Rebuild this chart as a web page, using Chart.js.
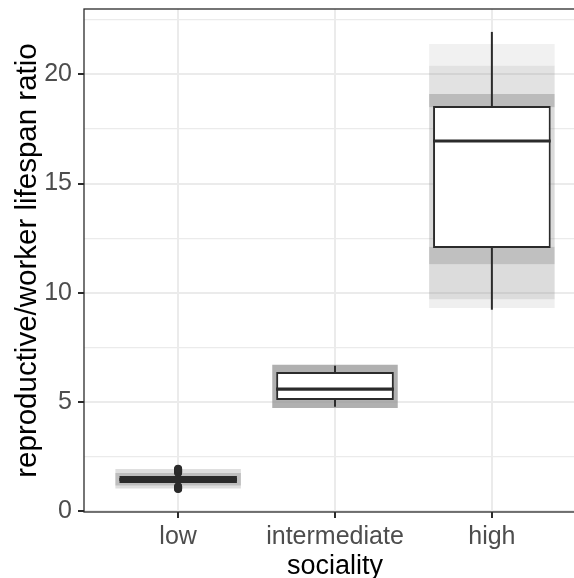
<!DOCTYPE html>
<html>
<head>
<meta charset="utf-8">
<script src="https://cdn.jsdelivr.net/npm/chart.js@4.4.1/dist/chart.umd.min.js"></script>
<style>
  html, body { margin: 0; padding: 0; background: #fff; overflow: hidden; }
  #wrap { width: 590px; height: 578px; }
</style>
</head>
<body>
<div id="wrap"><canvas id="lifespan" width="590" height="578"></canvas></div>
<script>
// box statistics per sociality level
const categories = ["low", "intermediate", "high"];
const q1 = [1.28, 5.08, 12.05];
const medians = [1.44, 5.58, 16.95];
const q3 = [1.6, 6.36, 18.55];
const whiskerLow = [1.15, 4.77, 9.22];
const whiskerHigh = [1.72, 6.65, 21.95];
const outliersLow = [1.0, 1.03, 1.06, 1.09, 1.12, 1.75, 1.78, 1.81, 1.84, 1.87, 1.9, 1.93];

// jittered replicates, summarised as bands of points (category index, range, density)
const bandCategory = [0, 0, 1, 2, 2, 2, 2, 2, 2, 2];
const bandLow = [1.03, 1.16, 4.72, 9.3, 9.7, 11.3, 12.1, 18.5, 19.1, 20.4];
const bandHigh = [1.92, 1.74, 6.7, 9.7, 11.3, 12.1, 18.5, 19.1, 20.4, 21.4];
const bandDensity = [0.3, 0.45, 0.75, 0.15, 0.33, 0.6, 0.35, 0.65, 0.28, 0.13];

const yMajorTicks = [0, 5, 10, 15, 20];
const yMinorTicks = [2.5, 7.5, 12.5, 17.5, 22.5];

const BOX_WIDTH = 0.75;
const JITTER_WIDTH = 0.8;
const INK = "#2b2b2b";
const FONT = "'Liberation Sans', Arial, sans-serif";

const panelBorder = {
  id: "panelBorder",
  afterDraw(chart) {
    const { ctx, chartArea: a } = chart;
    ctx.save();
    ctx.strokeStyle = INK;
    ctx.lineWidth = 1.3;
    ctx.strokeRect(a.left, a.top, a.right - a.left, a.bottom - a.top);
    ctx.restore();
  },
};

const medianLines = medians.map((m, i) => ({
  type: "line",
  data: [
    { x: i + 1 - BOX_WIDTH / 2, y: m },
    { x: i + 1 + BOX_WIDTH / 2, y: m },
  ],
  borderColor: INK,
  borderWidth: 3.2,
  pointRadius: 0,
  order: 2,
}));

const ctx = document.getElementById("lifespan").getContext("2d");

new Chart(ctx, {
  type: "bar",
  data: {
    datasets: [
      {
        label: "replicates",
        data: bandCategory.map((c, i) => ({ x: c + 1, y: [bandLow[i], bandHigh[i]] })),
        backgroundColor: (c) => `rgba(150,150,150,${bandDensity[c.dataIndex]})`,
        grouped: false,
        categoryPercentage: JITTER_WIDTH,
        barPercentage: 1,
        borderWidth: 0,
        order: 6,
      },
      {
        label: "lower whisker",
        data: categories.map((c, i) => ({ x: i + 1, y: [whiskerLow[i], q1[i]] })),
        backgroundColor: INK,
        grouped: false,
        maxBarThickness: 2,
        order: 5,
      },
      {
        label: "upper whisker",
        data: categories.map((c, i) => ({ x: i + 1, y: [q3[i], whiskerHigh[i]] })),
        backgroundColor: INK,
        grouped: false,
        maxBarThickness: 2,
        order: 5,
      },
      {
        label: "box",
        data: categories.map((c, i) => ({ x: i + 1, y: [q1[i], q3[i]] })),
        backgroundColor: "#ffffff",
        borderColor: INK,
        borderWidth: 2,
        borderSkipped: false,
        grouped: false,
        categoryPercentage: BOX_WIDTH,
        barPercentage: 1,
        order: 4,
      },
      ...medianLines,
      {
        type: "scatter",
        label: "outliers",
        data: outliersLow.map((v) => ({ x: 1, y: v })),
        backgroundColor: INK,
        borderWidth: 0,
        pointRadius: 4,
        order: 1,
      },
    ],
  },
  options: {
    responsive: false,
    animation: false,
    devicePixelRatio: 1,
    layout: { padding: { left: 0, top: 9, right: 4, bottom: 0 } },
    plugins: {
      legend: { display: false },
      tooltip: { enabled: false },
    },
    scales: {
      x: {
        type: "linear",
        min: 0.4,
        max: 3.6,
        offset: false,
        afterBuildTicks: (scale) => {
          scale.ticks = categories.map((c, i) => ({ value: i + 1 }));
        },
        afterFit: (scale) => {
          scale.height = 66;
          scale.paddingLeft = 0;
          scale.paddingRight = 0;
        },
        ticks: {
          autoSkip: false,
          maxRotation: 0,
          padding: 4,
          color: "#4d4d4d",
          font: { family: FONT, size: 25 },
          callback: (v) => categories[v - 1],
        },
        grid: {
          offset: false,
          color: "#ebebeb",
          lineWidth: 2,
          tickLength: 6,
          tickColor: INK,
        },
        border: { display: false },
        title: {
          display: true,
          text: "sociality",
          color: "#000",
          padding: { top: 0, bottom: -5 },
          font: { family: FONT, size: 27 },
        },
      },
      y: {
        type: "linear",
        min: -0.05,
        max: 23,
        afterBuildTicks: (scale) => {
          scale.ticks = [...yMajorTicks, ...yMinorTicks]
            .sort((a, b) => a - b)
            .map((v) => ({ value: v }));
        },
        afterFit: (scale) => {
          scale.width = 84;
          scale.paddingTop = 0;
          scale.paddingBottom = 0;
        },
        ticks: {
          autoSkip: false,
          padding: 6,
          color: "#4d4d4d",
          font: { family: FONT, size: 25 },
          callback: (v) => (yMajorTicks.includes(v) ? String(v) : ""),
        },
        grid: {
          color: "#ebebeb",
          lineWidth: (c) => (yMajorTicks.includes(c.tick.value) ? 2 : 1.2),
          tickLength: 6,
          tickColor: (c) => (yMajorTicks.includes(c.tick.value) ? INK : "rgba(0,0,0,0)"),
        },
        border: { display: false },
        title: {
          display: true,
          text: "reproductive/worker lifespan ratio",
          color: "#000",
          padding: { top: 10, bottom: 0 },
          font: { family: FONT, size: 29.5 },
        },
      },
    },
  },
  plugins: [panelBorder],
});
</script>
</body>
</html>
